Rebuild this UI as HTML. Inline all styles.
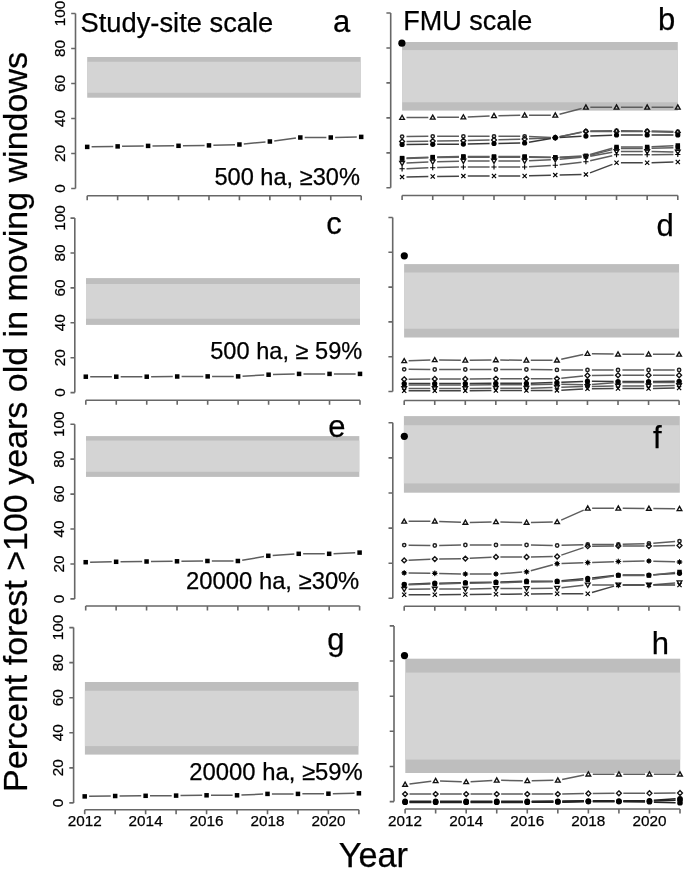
<!DOCTYPE html>
<html><head><meta charset="utf-8"><style>
html,body{margin:0;padding:0;background:#fff;}
body{width:685px;height:870px;overflow:hidden;}
svg{display:block;}
text{font-family:"Liberation Sans", Arial, sans-serif;fill:#000;stroke:#000;stroke-width:0.25px;}
.tk{font-size:15.3px;fill:#000;}
</style></head><body>
<svg width="685" height="870" viewBox="0 0 685 870">
<rect x="87.2" y="57" width="273.5" height="40.7" fill="#bebebe"/><rect x="87.2" y="61.8" width="273.5" height="31" fill="#d4d4d4"/>
<rect x="402.1" y="42" width="275.7" height="68.6" fill="#bebebe"/><rect x="402.1" y="50.1" width="275.7" height="52.2" fill="#d4d4d4"/>
<rect x="86" y="278.1" width="274" height="46.8" fill="#bebebe"/><rect x="86" y="284" width="274" height="34.7" fill="#d4d4d4"/>
<rect x="404.1" y="264.1" width="275" height="73.4" fill="#bebebe"/><rect x="404.1" y="272.5" width="275" height="56.2" fill="#d4d4d4"/>
<rect x="86" y="436.1" width="273.3" height="40.8" fill="#bebebe"/><rect x="86" y="440.6" width="273.3" height="31.2" fill="#d4d4d4"/>
<rect x="403.9" y="416.1" width="275.9" height="76.6" fill="#bebebe"/><rect x="403.9" y="425.2" width="275.9" height="58.2" fill="#d4d4d4"/>
<rect x="84.9" y="682" width="273.6" height="72.6" fill="#bebebe"/><rect x="84.9" y="690.8" width="273.6" height="55.3" fill="#d4d4d4"/>
<rect x="405.3" y="658.7" width="274.9" height="114.3" fill="#bebebe"/><rect x="405.3" y="672.6" width="274.9" height="87" fill="#d4d4d4"/>
<path d="M75.5 13.5V188.5M71.2 188.5H75.5M71.2 153.5H75.5M71.2 118.5H75.5M71.2 83.5H75.5M71.2 48.5H75.5M71.2 13.5H75.5M87.2 195.7H361.2M87.2 195.7V200.2M117.64 195.7V200.2M148.09 195.7V200.2M178.53 195.7V200.2M208.98 195.7V200.2M239.42 195.7V200.2M269.87 195.7V200.2M300.31 195.7V200.2M330.76 195.7V200.2M361.2 195.7V200.2" fill="none" stroke="#676767" stroke-width="1.6"/>
<text transform="translate(65.3 188.5) rotate(-90)" text-anchor="middle" class="tk">0</text>
<text transform="translate(65.3 153.5) rotate(-90)" text-anchor="middle" class="tk">20</text>
<text transform="translate(65.3 118.5) rotate(-90)" text-anchor="middle" class="tk">40</text>
<text transform="translate(65.3 83.5) rotate(-90)" text-anchor="middle" class="tk">60</text>
<text transform="translate(65.3 48.5) rotate(-90)" text-anchor="middle" class="tk">80</text>
<text transform="translate(65.3 13.5) rotate(-90)" text-anchor="middle" class="tk">100</text>
<path d="M390.7 13V187.8M386.4 187.8H390.7M386.4 152.84H390.7M386.4 117.88H390.7M386.4 82.92H390.7M386.4 47.96H390.7M386.4 13H390.7M402.1 195.5H677.8M402.1 195.5V200M432.73 195.5V200M463.37 195.5V200M494 195.5V200M524.63 195.5V200M555.27 195.5V200M585.9 195.5V200M616.53 195.5V200M647.17 195.5V200M677.8 195.5V200" fill="none" stroke="#676767" stroke-width="1.6"/>
<path d="M74.8 218.1V392.6M70.5 392.6H74.8M70.5 357.7H74.8M70.5 322.8H74.8M70.5 287.9H74.8M70.5 253H74.8M70.5 218.1H74.8M85.8 400.3H360M85.8 400.3V404.8M116.27 400.3V404.8M146.73 400.3V404.8M177.2 400.3V404.8M207.67 400.3V404.8M238.13 400.3V404.8M268.6 400.3V404.8M299.07 400.3V404.8M329.53 400.3V404.8M360 400.3V404.8" fill="none" stroke="#676767" stroke-width="1.6"/>
<text transform="translate(64.5 392.6) rotate(-90)" text-anchor="middle" class="tk">0</text>
<text transform="translate(64.5 357.7) rotate(-90)" text-anchor="middle" class="tk">20</text>
<text transform="translate(64.5 322.8) rotate(-90)" text-anchor="middle" class="tk">40</text>
<text transform="translate(64.5 287.9) rotate(-90)" text-anchor="middle" class="tk">60</text>
<text transform="translate(64.5 253) rotate(-90)" text-anchor="middle" class="tk">80</text>
<text transform="translate(64.5 218.1) rotate(-90)" text-anchor="middle" class="tk">100</text>
<path d="M392.7 217.5V391.5M388.4 391.5H392.7M388.4 356.7H392.7M388.4 321.9H392.7M388.4 287.1H392.7M388.4 252.3H392.7M388.4 217.5H392.7M404.2 400.5H679.1M404.2 400.5V405M434.74 400.5V405M465.29 400.5V405M495.83 400.5V405M526.38 400.5V405M556.92 400.5V405M587.47 400.5V405M618.01 400.5V405M648.56 400.5V405M679.1 400.5V405" fill="none" stroke="#676767" stroke-width="1.6"/>
<path d="M74.7 424.2V598.9M70.4 598.9H74.7M70.4 563.96H74.7M70.4 529.02H74.7M70.4 494.08H74.7M70.4 459.14H74.7M70.4 424.2H74.7M85.7 606H359.6M85.7 606V610.5M116.13 606V610.5M146.57 606V610.5M177 606V610.5M207.43 606V610.5M237.87 606V610.5M268.3 606V610.5M298.73 606V610.5M329.17 606V610.5M359.6 606V610.5" fill="none" stroke="#676767" stroke-width="1.6"/>
<text transform="translate(64.1 598.9) rotate(-90)" text-anchor="middle" class="tk">0</text>
<text transform="translate(64.1 563.96) rotate(-90)" text-anchor="middle" class="tk">20</text>
<text transform="translate(64.1 529.02) rotate(-90)" text-anchor="middle" class="tk">40</text>
<text transform="translate(64.1 494.08) rotate(-90)" text-anchor="middle" class="tk">60</text>
<text transform="translate(64.1 459.14) rotate(-90)" text-anchor="middle" class="tk">80</text>
<text transform="translate(64.1 424.2) rotate(-90)" text-anchor="middle" class="tk">100</text>
<path d="M392.8 422.8V598.3M388.5 598.3H392.8M388.5 563.2H392.8M388.5 528.1H392.8M388.5 493H392.8M388.5 457.9H392.8M388.5 422.8H392.8M404.2 606.2H679.5M404.2 606.2V610.7M434.79 606.2V610.7M465.38 606.2V610.7M495.97 606.2V610.7M526.56 606.2V610.7M557.14 606.2V610.7M587.73 606.2V610.7M618.32 606.2V610.7M648.91 606.2V610.7M679.5 606.2V610.7" fill="none" stroke="#676767" stroke-width="1.6"/>
<path d="M73.6 627.6V802.9M69.3 802.9H73.6M69.3 767.84H73.6M69.3 732.78H73.6M69.3 697.72H73.6M69.3 662.66H73.6M69.3 627.6H73.6M84.7 809.8H358.9M84.7 809.8V814.3M115.17 809.8V814.3M145.63 809.8V814.3M176.1 809.8V814.3M206.57 809.8V814.3M237.03 809.8V814.3M267.5 809.8V814.3M297.97 809.8V814.3M328.43 809.8V814.3M358.9 809.8V814.3" fill="none" stroke="#676767" stroke-width="1.6"/>
<text transform="translate(63.2 802.9) rotate(-90)" text-anchor="middle" class="tk">0</text>
<text transform="translate(63.2 767.84) rotate(-90)" text-anchor="middle" class="tk">20</text>
<text transform="translate(63.2 732.78) rotate(-90)" text-anchor="middle" class="tk">40</text>
<text transform="translate(63.2 697.72) rotate(-90)" text-anchor="middle" class="tk">60</text>
<text transform="translate(63.2 662.66) rotate(-90)" text-anchor="middle" class="tk">80</text>
<text transform="translate(63.2 627.6) rotate(-90)" text-anchor="middle" class="tk">100</text>
<path d="M394 625.9V801.6M389.7 801.6H394M389.7 766.46H394M389.7 731.32H394M389.7 696.18H394M389.7 661.04H394M389.7 625.9H394M405.1 809H680M405.1 809V813.5M435.64 809V813.5M466.19 809V813.5M496.73 809V813.5M527.28 809V813.5M557.82 809V813.5M588.37 809V813.5M618.91 809V813.5M649.46 809V813.5M680 809V813.5" fill="none" stroke="#676767" stroke-width="1.6"/>
<path d="M91.6 146.83L113.25 146.47M122.04 146.33L143.69 145.97M152.49 145.89L174.13 145.81M182.93 145.74L204.58 145.46M213.38 145.27L235.02 144.63M243.8 144.07L265.49 141.93M274.23 140.93L295.95 138.07M304.71 137.5L326.36 137.5M335.15 137.41L356.8 136.99" fill="none" stroke="#5e5e5e" stroke-width="1.5"/>
<rect x="84.95" y="144.65" width="4.5" height="4.5" fill="#000"/><rect x="115.39" y="144.15" width="4.5" height="4.5" fill="#000"/><rect x="145.84" y="143.65" width="4.5" height="4.5" fill="#000"/><rect x="176.28" y="143.55" width="4.5" height="4.5" fill="#000"/><rect x="206.73" y="143.15" width="4.5" height="4.5" fill="#000"/><rect x="237.17" y="142.25" width="4.5" height="4.5" fill="#000"/><rect x="267.62" y="139.25" width="4.5" height="4.5" fill="#000"/><rect x="298.06" y="135.25" width="4.5" height="4.5" fill="#000"/><rect x="328.51" y="135.25" width="4.5" height="4.5" fill="#000"/><rect x="358.95" y="134.65" width="4.5" height="4.5" fill="#000"/>
<path d="M406.5 117.57L428.33 117.43M437.13 117.36L458.97 117.14M467.76 116.91L489.6 115.99M498.4 115.73L520.23 115.37M529.03 115.3L550.87 115.3M559.52 114.19L581.64 108.41M590.3 107.3L612.13 107.3M620.93 107.3L642.77 107.3M651.57 107.3L673.4 107.3" fill="none" stroke="#5e5e5e" stroke-width="1.5"/>
<path d="M406.5 136.56L428.33 136.34M437.13 136.3L458.97 136.3M467.77 136.3L489.6 136.3M498.4 136.3L520.23 136.3M529.03 136.5L550.87 137.5M559.57 136.77L581.6 132.03M590.3 131.04L612.13 130.76M620.93 130.74L642.77 130.96M651.57 131.1L673.4 131.6" fill="none" stroke="#5e5e5e" stroke-width="1.5"/>
<path d="M406.5 141.44L428.33 141.16M437.13 141.04L458.97 140.76M467.77 140.6L489.6 140.1M498.4 139.86L520.24 139.14M529.03 138.81L550.87 137.89M559.58 136.83L581.59 132.37M590.3 131.5L612.13 131.5M620.93 131.5L642.77 131.5M651.56 131.64L673.4 132.36" fill="none" stroke="#5e5e5e" stroke-width="1.5"/>
<path d="M406.5 144.47L428.33 144.33M437.13 144.27L458.97 144.13M467.77 144.01L489.6 143.59M498.4 143.43L520.23 143.07M528.97 142.25L550.93 138.45M559.66 137.47L581.51 136.33M590.3 135.94L612.14 135.16M620.93 135L642.77 135M651.57 135L673.4 135" fill="none" stroke="#383838" stroke-width="1.5"/>
<path d="M406.5 157.96L428.34 157.24M437.13 157L458.97 156.5M467.77 156.41L489.6 156.49M498.4 156.5L520.23 156.5M529.03 156.63L550.87 157.27M559.66 157.17L581.51 156.03M590.13 154.59L612.3 148.21M620.93 147L642.77 147M651.56 146.78L673.41 145.72" fill="none" stroke="#5e5e5e" stroke-width="1.5"/>
<path d="M406.5 158.46L428.34 157.74M437.13 157.54L458.97 157.26M467.77 157.2L489.6 157.2M498.4 157.2L520.23 157.2M529.03 157.26L550.87 157.54M559.66 157.44L581.5 156.66M590.16 155.39L612.28 149.61M620.93 148.5L642.77 148.5M651.56 148.36L673.4 147.64" fill="none" stroke="#5e5e5e" stroke-width="1.5"/>
<path d="M406.5 163.1L428.34 162.1M437.13 161.77L458.97 161.13M467.77 161L489.6 161M498.4 161L520.23 161M529.03 160.78L550.87 159.72M559.65 159.14L581.51 157.36M590.23 156.22L612.2 152.28M620.93 151.5L642.77 151.5M651.57 151.57L673.4 151.93" fill="none" stroke="#5e5e5e" stroke-width="1.5"/>
<path d="M406.5 168.64L428.34 167.86M437.13 167.6L458.97 167.1M467.77 167L489.6 167M498.4 167L520.23 167M529.03 166.76L550.87 165.54M559.64 164.79L581.53 162.21M590.19 160.72L612.24 155.68M620.93 154.7L642.77 154.7M651.57 154.67L673.4 154.53" fill="none" stroke="#5e5e5e" stroke-width="1.5"/>
<path d="M406.5 177.01L428.33 176.59M437.13 176.44L458.97 176.16M467.77 176.09L489.6 176.01M498.4 176L520.23 176M529.03 175.87L550.87 175.23M559.67 175L581.5 174.5M590.01 172.84L612.42 164.36M620.93 162.8L642.77 162.8M651.57 162.69L673.4 162.11" fill="none" stroke="#444" stroke-width="1.5"/>
<path d="M402.1 115.25L404.45 119.36L399.75 119.36Z" fill="none" stroke="#111" stroke-width="1.35"/><path d="M432.73 115.05L435.08 119.16L430.38 119.16Z" fill="none" stroke="#111" stroke-width="1.35"/><path d="M463.37 114.75L465.72 118.86L461.02 118.86Z" fill="none" stroke="#111" stroke-width="1.35"/><path d="M494 113.45L496.35 117.56L491.65 117.56Z" fill="none" stroke="#111" stroke-width="1.35"/><path d="M524.63 112.95L526.98 117.06L522.28 117.06Z" fill="none" stroke="#111" stroke-width="1.35"/><path d="M555.27 112.95L557.62 117.06L552.92 117.06Z" fill="none" stroke="#111" stroke-width="1.35"/><path d="M585.9 104.95L588.25 109.06L583.55 109.06Z" fill="none" stroke="#111" stroke-width="1.35"/><path d="M616.53 104.95L618.88 109.06L614.18 109.06Z" fill="none" stroke="#111" stroke-width="1.35"/><path d="M647.17 104.95L649.52 109.06L644.82 109.06Z" fill="none" stroke="#111" stroke-width="1.35"/><path d="M677.8 104.95L680.15 109.06L675.45 109.06Z" fill="none" stroke="#111" stroke-width="1.35"/>
<circle cx="402.1" cy="136.6" r="1.65" fill="none" stroke="#222" stroke-width="1.5"/><circle cx="432.73" cy="136.3" r="1.65" fill="none" stroke="#222" stroke-width="1.5"/><circle cx="463.37" cy="136.3" r="1.65" fill="none" stroke="#222" stroke-width="1.5"/><circle cx="494" cy="136.3" r="1.65" fill="none" stroke="#222" stroke-width="1.5"/><circle cx="524.63" cy="136.3" r="1.65" fill="none" stroke="#222" stroke-width="1.5"/><circle cx="555.27" cy="137.7" r="1.65" fill="none" stroke="#222" stroke-width="1.5"/><circle cx="585.9" cy="131.1" r="1.65" fill="none" stroke="#222" stroke-width="1.5"/><circle cx="616.53" cy="130.7" r="1.65" fill="none" stroke="#222" stroke-width="1.5"/><circle cx="647.17" cy="131" r="1.65" fill="none" stroke="#222" stroke-width="1.5"/><circle cx="677.8" cy="131.7" r="1.65" fill="none" stroke="#222" stroke-width="1.5"/>
<path d="M402.1 139.05L404.55 141.5L402.1 143.95L399.65 141.5Z" fill="none" stroke="#111" stroke-width="1.35"/><path d="M432.73 138.65L435.18 141.1L432.73 143.55L430.28 141.1Z" fill="none" stroke="#111" stroke-width="1.35"/><path d="M463.37 138.25L465.82 140.7L463.37 143.15L460.92 140.7Z" fill="none" stroke="#111" stroke-width="1.35"/><path d="M494 137.55L496.45 140L494 142.45L491.55 140Z" fill="none" stroke="#111" stroke-width="1.35"/><path d="M524.63 136.55L527.08 139L524.63 141.45L522.18 139Z" fill="none" stroke="#111" stroke-width="1.35"/><path d="M555.27 135.25L557.72 137.7L555.27 140.15L552.82 137.7Z" fill="none" stroke="#111" stroke-width="1.35"/><path d="M585.9 129.05L588.35 131.5L585.9 133.95L583.45 131.5Z" fill="none" stroke="#111" stroke-width="1.35"/><path d="M616.53 129.05L618.98 131.5L616.53 133.95L614.08 131.5Z" fill="none" stroke="#111" stroke-width="1.35"/><path d="M647.17 129.05L649.62 131.5L647.17 133.95L644.72 131.5Z" fill="none" stroke="#111" stroke-width="1.35"/><path d="M677.8 130.05L680.25 132.5L677.8 134.95L675.35 132.5Z" fill="none" stroke="#111" stroke-width="1.35"/>
<circle cx="402.1" cy="144.5" r="2.6" fill="#000"/><circle cx="432.73" cy="144.3" r="2.6" fill="#000"/><circle cx="463.37" cy="144.1" r="2.6" fill="#000"/><circle cx="494" cy="143.5" r="2.6" fill="#000"/><circle cx="524.63" cy="143" r="2.6" fill="#000"/><circle cx="555.27" cy="137.7" r="2.6" fill="#000"/><circle cx="585.9" cy="136.1" r="2.6" fill="#000"/><circle cx="616.53" cy="135" r="2.6" fill="#000"/><circle cx="647.17" cy="135" r="2.6" fill="#000"/><circle cx="677.8" cy="135" r="2.6" fill="#000"/>
<rect x="399.85" y="155.85" width="4.5" height="4.5" fill="#000"/><rect x="430.48" y="154.85" width="4.5" height="4.5" fill="#000"/><rect x="461.12" y="154.15" width="4.5" height="4.5" fill="#000"/><rect x="491.75" y="154.25" width="4.5" height="4.5" fill="#000"/><rect x="522.38" y="154.25" width="4.5" height="4.5" fill="#000"/><rect x="553.02" y="155.15" width="4.5" height="4.5" fill="#000"/><rect x="583.65" y="153.55" width="4.5" height="4.5" fill="#000"/><rect x="614.28" y="144.75" width="4.5" height="4.5" fill="#000"/><rect x="644.92" y="144.75" width="4.5" height="4.5" fill="#000"/><rect x="675.55" y="143.25" width="4.5" height="4.5" fill="#000"/>
<rect x="399.85" y="156.35" width="4.5" height="4.5" fill="#000"/><rect x="430.48" y="155.35" width="4.5" height="4.5" fill="#000"/><rect x="461.12" y="154.95" width="4.5" height="4.5" fill="#000"/><rect x="491.75" y="154.95" width="4.5" height="4.5" fill="#000"/><rect x="522.38" y="154.95" width="4.5" height="4.5" fill="#000"/><rect x="553.02" y="155.35" width="4.5" height="4.5" fill="#000"/><rect x="583.65" y="154.25" width="4.5" height="4.5" fill="#000"/><rect x="614.28" y="146.25" width="4.5" height="4.5" fill="#000"/><rect x="644.92" y="146.25" width="4.5" height="4.5" fill="#000"/><rect x="675.55" y="145.25" width="4.5" height="4.5" fill="#000"/>
<path d="M402.1 165.65L404.45 161.54L399.75 161.54Z" fill="none" stroke="#111" stroke-width="1.35"/><path d="M432.73 164.25L435.08 160.14L430.38 160.14Z" fill="none" stroke="#111" stroke-width="1.35"/><path d="M463.37 163.35L465.72 159.24L461.02 159.24Z" fill="none" stroke="#111" stroke-width="1.35"/><path d="M494 163.35L496.35 159.24L491.65 159.24Z" fill="none" stroke="#111" stroke-width="1.35"/><path d="M524.63 163.35L526.98 159.24L522.28 159.24Z" fill="none" stroke="#111" stroke-width="1.35"/><path d="M555.27 161.85L557.62 157.74L552.92 157.74Z" fill="none" stroke="#111" stroke-width="1.35"/><path d="M585.9 159.35L588.25 155.24L583.55 155.24Z" fill="none" stroke="#111" stroke-width="1.35"/><path d="M616.53 153.85L618.88 149.74L614.18 149.74Z" fill="none" stroke="#111" stroke-width="1.35"/><path d="M647.17 153.85L649.52 149.74L644.82 149.74Z" fill="none" stroke="#111" stroke-width="1.35"/><path d="M677.8 154.35L680.15 150.24L675.45 150.24Z" fill="none" stroke="#111" stroke-width="1.35"/>
<path d="M399.5 168.8H404.7M402.1 166.2V171.4" stroke="#000" stroke-width="1.1"/><path d="M430.13 167.7H435.33M432.73 165.1V170.3" stroke="#000" stroke-width="1.1"/><path d="M460.77 167H465.97M463.37 164.4V169.6" stroke="#000" stroke-width="1.1"/><path d="M491.4 167H496.6M494 164.4V169.6" stroke="#000" stroke-width="1.1"/><path d="M522.03 167H527.23M524.63 164.4V169.6" stroke="#000" stroke-width="1.1"/><path d="M552.67 165.3H557.87M555.27 162.7V167.9" stroke="#000" stroke-width="1.1"/><path d="M583.3 161.7H588.5M585.9 159.1V164.3" stroke="#000" stroke-width="1.1"/><path d="M613.93 154.7H619.13M616.53 152.1V157.3" stroke="#000" stroke-width="1.1"/><path d="M644.57 154.7H649.77M647.17 152.1V157.3" stroke="#000" stroke-width="1.1"/><path d="M675.2 154.5H680.4M677.8 151.9V157.1" stroke="#000" stroke-width="1.1"/>
<path d="M400 175L404.2 179.2M400 179.2L404.2 175" stroke="#000" stroke-width="1.2"/><path d="M430.63 174.4L434.83 178.6M430.63 178.6L434.83 174.4" stroke="#000" stroke-width="1.2"/><path d="M461.27 174L465.47 178.2M461.27 178.2L465.47 174" stroke="#000" stroke-width="1.2"/><path d="M491.9 173.9L496.1 178.1M491.9 178.1L496.1 173.9" stroke="#000" stroke-width="1.2"/><path d="M522.53 173.9L526.73 178.1M522.53 178.1L526.73 173.9" stroke="#000" stroke-width="1.2"/><path d="M553.17 173L557.37 177.2M553.17 177.2L557.37 173" stroke="#000" stroke-width="1.2"/><path d="M583.8 172.3L588 176.5M583.8 176.5L588 172.3" stroke="#000" stroke-width="1.2"/><path d="M614.43 160.7L618.63 164.9M614.43 164.9L618.63 160.7" stroke="#000" stroke-width="1.2"/><path d="M645.07 160.7L649.27 164.9M645.07 164.9L649.27 160.7" stroke="#000" stroke-width="1.2"/><path d="M675.7 159.9L679.9 164.1M675.7 164.1L679.9 159.9" stroke="#000" stroke-width="1.2"/>
<circle cx="401.9" cy="43.2" r="3.6" fill="#000"/>
<path d="M90.2 376.7L111.87 376.7M120.67 376.7L142.33 376.7M151.13 376.67L172.8 376.53M181.6 376.49L203.27 376.41M212.07 376.4L233.73 376.4M242.53 376.15L264.21 374.95M273 374.58L294.67 374.02M303.47 373.9L325.13 373.9M333.93 373.9L355.6 373.9" fill="none" stroke="#5e5e5e" stroke-width="1.5"/>
<rect x="83.55" y="374.45" width="4.5" height="4.5" fill="#000"/><rect x="114.02" y="374.45" width="4.5" height="4.5" fill="#000"/><rect x="144.48" y="374.45" width="4.5" height="4.5" fill="#000"/><rect x="174.95" y="374.25" width="4.5" height="4.5" fill="#000"/><rect x="205.42" y="374.15" width="4.5" height="4.5" fill="#000"/><rect x="235.88" y="374.15" width="4.5" height="4.5" fill="#000"/><rect x="266.35" y="372.45" width="4.5" height="4.5" fill="#000"/><rect x="296.82" y="371.65" width="4.5" height="4.5" fill="#000"/><rect x="327.28" y="371.65" width="4.5" height="4.5" fill="#000"/><rect x="357.75" y="371.65" width="4.5" height="4.5" fill="#000"/>
<path d="M408.6 360.76L430.35 360.04M439.14 359.96L460.89 360.24M469.69 360.26L491.43 360.04M500.23 360.04L521.98 360.26M530.78 360.29L552.52 360.21M561.22 359.27L583.17 354.53M591.87 353.69L613.61 354.11M622.41 354.2L644.16 354.2M652.96 354.23L674.7 354.37" fill="none" stroke="#5e5e5e" stroke-width="1.5"/>
<path d="M408.6 369.33L430.34 369.47M439.14 369.5L460.89 369.5M469.69 369.5L491.43 369.5M500.23 369.5L521.98 369.5M530.78 369.56L552.52 369.84M561.32 369.9L583.07 369.9M591.87 369.91L613.61 369.99M622.41 370L644.16 370M652.96 370L674.7 370" fill="none" stroke="#5e5e5e" stroke-width="1.5"/>
<path d="M408.6 379.26L430.34 379.04M439.14 379L460.89 379M469.69 378.97L491.43 378.83M500.23 378.8L521.98 378.8M530.78 378.77L552.52 378.63M561.3 378.16L583.09 375.94M591.87 375.47L613.61 375.33M622.41 375.3L644.16 375.3M652.96 375.3L674.7 375.3" fill="none" stroke="#5e5e5e" stroke-width="1.5"/>
<path d="M408.6 383.5L430.34 383.5M439.14 383.5L460.89 383.5M469.69 383.47L491.43 383.33M500.23 383.3L521.98 383.3M530.78 383.18L552.52 382.62M561.32 382.31L583.07 381.39M591.87 381.24L613.61 381.46M622.41 381.5L644.16 381.5M652.96 381.47L674.7 381.33" fill="none" stroke="#383838" stroke-width="1.5"/>
<path d="M408.6 385L430.34 385M439.14 385L460.89 385M469.69 384.97L491.43 384.83M500.23 384.8L521.98 384.8M530.78 384.71L552.52 384.29M561.32 384.27L583.07 384.63M591.86 384.38L613.62 382.82M622.41 382.5L644.16 382.5M652.96 382.5L674.7 382.5" fill="none" stroke="#5e5e5e" stroke-width="1.5"/>
<path d="M408.6 388.5L430.34 388.5M439.14 388.5L460.89 388.5M469.69 388.47L491.43 388.33M500.23 388.3L521.98 388.3M530.78 388.16L552.52 387.44M561.32 387.18L583.07 386.62M591.87 386.43L613.61 386.07M622.41 386L644.16 386M652.95 385.93L674.7 385.57" fill="none" stroke="#5e5e5e" stroke-width="1.5"/>
<path d="M408.6 390.7L430.34 390.7M439.14 390.7L460.89 390.7M469.69 390.67L491.43 390.53M500.23 390.5L521.98 390.5M530.78 390.49L552.52 390.41M561.32 390.17L583.07 389.03M591.87 388.76L613.61 388.54M622.41 388.5L644.16 388.5M652.95 388.43L674.7 388.07" fill="none" stroke="#444" stroke-width="1.5"/>
<path d="M404.2 358.55L406.55 362.66L401.85 362.66Z" fill="none" stroke="#111" stroke-width="1.35"/><path d="M434.74 357.55L437.09 361.66L432.39 361.66Z" fill="none" stroke="#111" stroke-width="1.35"/><path d="M465.29 357.95L467.64 362.06L462.94 362.06Z" fill="none" stroke="#111" stroke-width="1.35"/><path d="M495.83 357.65L498.18 361.76L493.48 361.76Z" fill="none" stroke="#111" stroke-width="1.35"/><path d="M526.38 357.95L528.73 362.06L524.03 362.06Z" fill="none" stroke="#111" stroke-width="1.35"/><path d="M556.92 357.85L559.27 361.96L554.57 361.96Z" fill="none" stroke="#111" stroke-width="1.35"/><path d="M587.47 351.25L589.82 355.36L585.12 355.36Z" fill="none" stroke="#111" stroke-width="1.35"/><path d="M618.01 351.85L620.36 355.96L615.66 355.96Z" fill="none" stroke="#111" stroke-width="1.35"/><path d="M648.56 351.85L650.91 355.96L646.21 355.96Z" fill="none" stroke="#111" stroke-width="1.35"/><path d="M679.1 352.05L681.45 356.16L676.75 356.16Z" fill="none" stroke="#111" stroke-width="1.35"/>
<circle cx="404.2" cy="369.3" r="1.65" fill="none" stroke="#222" stroke-width="1.5"/><circle cx="434.74" cy="369.5" r="1.65" fill="none" stroke="#222" stroke-width="1.5"/><circle cx="465.29" cy="369.5" r="1.65" fill="none" stroke="#222" stroke-width="1.5"/><circle cx="495.83" cy="369.5" r="1.65" fill="none" stroke="#222" stroke-width="1.5"/><circle cx="526.38" cy="369.5" r="1.65" fill="none" stroke="#222" stroke-width="1.5"/><circle cx="556.92" cy="369.9" r="1.65" fill="none" stroke="#222" stroke-width="1.5"/><circle cx="587.47" cy="369.9" r="1.65" fill="none" stroke="#222" stroke-width="1.5"/><circle cx="618.01" cy="370" r="1.65" fill="none" stroke="#222" stroke-width="1.5"/><circle cx="648.56" cy="370" r="1.65" fill="none" stroke="#222" stroke-width="1.5"/><circle cx="679.1" cy="370" r="1.65" fill="none" stroke="#222" stroke-width="1.5"/>
<path d="M404.2 376.85L406.65 379.3L404.2 381.75L401.75 379.3Z" fill="none" stroke="#111" stroke-width="1.35"/><path d="M434.74 376.55L437.19 379L434.74 381.45L432.29 379Z" fill="none" stroke="#111" stroke-width="1.35"/><path d="M465.29 376.55L467.74 379L465.29 381.45L462.84 379Z" fill="none" stroke="#111" stroke-width="1.35"/><path d="M495.83 376.35L498.28 378.8L495.83 381.25L493.38 378.8Z" fill="none" stroke="#111" stroke-width="1.35"/><path d="M526.38 376.35L528.83 378.8L526.38 381.25L523.93 378.8Z" fill="none" stroke="#111" stroke-width="1.35"/><path d="M556.92 376.15L559.37 378.6L556.92 381.05L554.47 378.6Z" fill="none" stroke="#111" stroke-width="1.35"/><path d="M587.47 373.05L589.92 375.5L587.47 377.95L585.02 375.5Z" fill="none" stroke="#111" stroke-width="1.35"/><path d="M618.01 372.85L620.46 375.3L618.01 377.75L615.56 375.3Z" fill="none" stroke="#111" stroke-width="1.35"/><path d="M648.56 372.85L651.01 375.3L648.56 377.75L646.11 375.3Z" fill="none" stroke="#111" stroke-width="1.35"/><path d="M679.1 372.85L681.55 375.3L679.1 377.75L676.65 375.3Z" fill="none" stroke="#111" stroke-width="1.35"/>
<circle cx="404.2" cy="383.5" r="2.6" fill="#000"/><circle cx="434.74" cy="383.5" r="2.6" fill="#000"/><circle cx="465.29" cy="383.5" r="2.6" fill="#000"/><circle cx="495.83" cy="383.3" r="2.6" fill="#000"/><circle cx="526.38" cy="383.3" r="2.6" fill="#000"/><circle cx="556.92" cy="382.5" r="2.6" fill="#000"/><circle cx="587.47" cy="381.2" r="2.6" fill="#000"/><circle cx="618.01" cy="381.5" r="2.6" fill="#000"/><circle cx="648.56" cy="381.5" r="2.6" fill="#000"/><circle cx="679.1" cy="381.3" r="2.6" fill="#000"/>
<rect x="401.95" y="382.75" width="4.5" height="4.5" fill="#000"/><rect x="432.49" y="382.75" width="4.5" height="4.5" fill="#000"/><rect x="463.04" y="382.75" width="4.5" height="4.5" fill="#000"/><rect x="493.58" y="382.55" width="4.5" height="4.5" fill="#000"/><rect x="524.13" y="382.55" width="4.5" height="4.5" fill="#000"/><rect x="554.67" y="381.95" width="4.5" height="4.5" fill="#000"/><rect x="585.22" y="382.45" width="4.5" height="4.5" fill="#000"/><rect x="615.76" y="380.25" width="4.5" height="4.5" fill="#000"/><rect x="646.31" y="380.25" width="4.5" height="4.5" fill="#000"/><rect x="676.85" y="380.25" width="4.5" height="4.5" fill="#000"/>
<path d="M404.2 390.85L406.55 386.74L401.85 386.74Z" fill="none" stroke="#111" stroke-width="1.35"/><path d="M434.74 390.85L437.09 386.74L432.39 386.74Z" fill="none" stroke="#111" stroke-width="1.35"/><path d="M465.29 390.85L467.64 386.74L462.94 386.74Z" fill="none" stroke="#111" stroke-width="1.35"/><path d="M495.83 390.65L498.18 386.54L493.48 386.54Z" fill="none" stroke="#111" stroke-width="1.35"/><path d="M526.38 390.65L528.73 386.54L524.03 386.54Z" fill="none" stroke="#111" stroke-width="1.35"/><path d="M556.92 389.65L559.27 385.54L554.57 385.54Z" fill="none" stroke="#111" stroke-width="1.35"/><path d="M587.47 388.85L589.82 384.74L585.12 384.74Z" fill="none" stroke="#111" stroke-width="1.35"/><path d="M618.01 388.35L620.36 384.24L615.66 384.24Z" fill="none" stroke="#111" stroke-width="1.35"/><path d="M648.56 388.35L650.91 384.24L646.21 384.24Z" fill="none" stroke="#111" stroke-width="1.35"/><path d="M679.1 387.85L681.45 383.74L676.75 383.74Z" fill="none" stroke="#111" stroke-width="1.35"/>
<path d="M402.1 388.6L406.3 392.8M402.1 392.8L406.3 388.6" stroke="#000" stroke-width="1.2"/><path d="M432.64 388.6L436.84 392.8M432.64 392.8L436.84 388.6" stroke="#000" stroke-width="1.2"/><path d="M463.19 388.6L467.39 392.8M463.19 392.8L467.39 388.6" stroke="#000" stroke-width="1.2"/><path d="M493.73 388.4L497.93 392.6M493.73 392.6L497.93 388.4" stroke="#000" stroke-width="1.2"/><path d="M524.28 388.4L528.48 392.6M524.28 392.6L528.48 388.4" stroke="#000" stroke-width="1.2"/><path d="M554.82 388.3L559.02 392.5M554.82 392.5L559.02 388.3" stroke="#000" stroke-width="1.2"/><path d="M585.37 386.7L589.57 390.9M585.37 390.9L589.57 386.7" stroke="#000" stroke-width="1.2"/><path d="M615.91 386.4L620.11 390.6M615.91 390.6L620.11 386.4" stroke="#000" stroke-width="1.2"/><path d="M646.46 386.4L650.66 390.6M646.46 390.6L650.66 386.4" stroke="#000" stroke-width="1.2"/><path d="M677 385.9L681.2 390.1M677 390.1L681.2 385.9" stroke="#000" stroke-width="1.2"/>
<circle cx="404.3" cy="255.8" r="3.6" fill="#000"/>
<path d="M90.1 562.14L111.73 561.86M120.53 561.76L142.17 561.54M150.97 561.47L172.6 561.33M181.4 561.26L203.03 561.04M211.83 561L233.47 561M242.2 560.26L263.96 556.54M272.69 555.51L294.34 554.09M303.13 553.8L324.77 553.8M333.56 553.63L355.2 552.77" fill="none" stroke="#5e5e5e" stroke-width="1.5"/>
<rect x="83.45" y="559.95" width="4.5" height="4.5" fill="#000"/><rect x="113.88" y="559.55" width="4.5" height="4.5" fill="#000"/><rect x="144.32" y="559.25" width="4.5" height="4.5" fill="#000"/><rect x="174.75" y="559.05" width="4.5" height="4.5" fill="#000"/><rect x="205.18" y="558.75" width="4.5" height="4.5" fill="#000"/><rect x="235.62" y="558.75" width="4.5" height="4.5" fill="#000"/><rect x="266.05" y="553.55" width="4.5" height="4.5" fill="#000"/><rect x="296.48" y="551.55" width="4.5" height="4.5" fill="#000"/><rect x="326.92" y="551.55" width="4.5" height="4.5" fill="#000"/><rect x="357.35" y="550.35" width="4.5" height="4.5" fill="#000"/>
<path d="M408.6 521.37L430.39 521.23M439.18 521.39L460.98 522.31M469.78 522.41L491.57 521.99M500.37 521.99L522.16 522.41M530.95 522.41L552.75 521.99M561.16 520.11L583.71 510.09M592.13 508.3L613.92 508.3M622.72 508.33L644.51 508.47M653.31 508.54L675.1 508.76" fill="none" stroke="#5e5e5e" stroke-width="1.5"/>
<path d="M408.6 545.16L430.39 545.44M439.19 545.43L460.98 545.07M469.78 545L491.57 545M500.37 545L522.16 545M530.95 545.07L552.75 545.43M561.54 545.36L583.34 544.64M592.13 544.5L613.92 544.5M622.72 544.36L644.51 543.64M653.3 543.16L675.11 541.44" fill="none" stroke="#5e5e5e" stroke-width="1.5"/>
<path d="M408.6 560.21L430.39 559.29M439.19 559.03L460.98 558.67M469.77 558.36L491.57 557.14M500.37 556.91L522.16 556.99M530.95 556.93L552.75 556.57M561.31 555.1L583.56 547.6M592.13 546.17L613.92 546.03M622.72 546L644.51 546M653.31 545.93L675.1 545.57" fill="none" stroke="#5e5e5e" stroke-width="1.5"/>
<path d="M408.6 572.96L430.39 573.24M439.19 573.4L460.98 573.9M469.78 574L491.57 574M500.36 573.68L522.17 572.12M530.81 570.67L552.89 564.83M561.54 563.54L583.34 562.76M592.13 562.44L613.93 561.66M622.72 561.43L644.51 561.07M653.31 561.14L675.1 561.86" fill="none" stroke="#5e5e5e" stroke-width="1.5"/>
<path d="M408.6 584.14L430.39 583.36M439.19 583.13L460.98 582.77M469.78 582.61L491.57 582.19M500.36 581.97L522.16 581.33M530.96 581.2L552.74 581.2M561.53 580.8L583.35 578.8M592.11 577.91L613.95 575.49M622.72 575L644.51 575M653.3 574.76L675.11 573.54" fill="none" stroke="#383838" stroke-width="1.5"/>
<path d="M408.6 584.68L430.39 584.12M439.19 583.88L460.98 583.32M469.78 583.14L491.57 582.86M500.37 582.68L522.16 582.12M530.96 581.97L552.74 581.83M561.54 581.51L583.34 580.09M592.09 579.19L613.97 576.11M622.72 575.5L644.51 575.5M653.28 575L675.13 572.5" fill="none" stroke="#5e5e5e" stroke-width="1.5"/>
<path d="M408.6 589.26L430.39 589.04M439.19 589L460.98 589M469.78 588.93L491.57 588.57M500.37 588.5L522.16 588.5M530.96 588.46L552.74 588.24M561.52 587.73L583.36 585.37M592.13 584.9L613.92 584.9M622.72 584.91L644.51 584.99M653.3 584.67L675.11 583.03" fill="none" stroke="#5e5e5e" stroke-width="1.5"/>
<path d="M408.6 594.8L430.39 594.8M439.19 594.76L460.98 594.54M469.78 594.47L491.57 594.33M500.37 594.26L522.16 594.04M530.96 593.96L552.74 593.74M561.54 593.7L583.33 593.7M591.96 592.48L614.09 586.12M622.72 584.91L644.51 584.99M653.31 585L675.1 585" fill="none" stroke="#444" stroke-width="1.5"/>
<path d="M404.2 519.05L406.55 523.16L401.85 523.16Z" fill="none" stroke="#111" stroke-width="1.35"/><path d="M434.79 518.85L437.14 522.96L432.44 522.96Z" fill="none" stroke="#111" stroke-width="1.35"/><path d="M465.38 520.15L467.73 524.26L463.03 524.26Z" fill="none" stroke="#111" stroke-width="1.35"/><path d="M495.97 519.55L498.32 523.66L493.62 523.66Z" fill="none" stroke="#111" stroke-width="1.35"/><path d="M526.56 520.15L528.91 524.26L524.21 524.26Z" fill="none" stroke="#111" stroke-width="1.35"/><path d="M557.14 519.55L559.49 523.66L554.79 523.66Z" fill="none" stroke="#111" stroke-width="1.35"/><path d="M587.73 505.95L590.08 510.06L585.38 510.06Z" fill="none" stroke="#111" stroke-width="1.35"/><path d="M618.32 505.95L620.67 510.06L615.97 510.06Z" fill="none" stroke="#111" stroke-width="1.35"/><path d="M648.91 506.15L651.26 510.26L646.56 510.26Z" fill="none" stroke="#111" stroke-width="1.35"/><path d="M679.5 506.45L681.85 510.56L677.15 510.56Z" fill="none" stroke="#111" stroke-width="1.35"/>
<circle cx="404.2" cy="545.1" r="1.65" fill="none" stroke="#222" stroke-width="1.5"/><circle cx="434.79" cy="545.5" r="1.65" fill="none" stroke="#222" stroke-width="1.5"/><circle cx="465.38" cy="545" r="1.65" fill="none" stroke="#222" stroke-width="1.5"/><circle cx="495.97" cy="545" r="1.65" fill="none" stroke="#222" stroke-width="1.5"/><circle cx="526.56" cy="545" r="1.65" fill="none" stroke="#222" stroke-width="1.5"/><circle cx="557.14" cy="545.5" r="1.65" fill="none" stroke="#222" stroke-width="1.5"/><circle cx="587.73" cy="544.5" r="1.65" fill="none" stroke="#222" stroke-width="1.5"/><circle cx="618.32" cy="544.5" r="1.65" fill="none" stroke="#222" stroke-width="1.5"/><circle cx="648.91" cy="543.5" r="1.65" fill="none" stroke="#222" stroke-width="1.5"/><circle cx="679.5" cy="541.1" r="1.65" fill="none" stroke="#222" stroke-width="1.5"/>
<path d="M404.2 557.95L406.65 560.4L404.2 562.85L401.75 560.4Z" fill="none" stroke="#111" stroke-width="1.35"/><path d="M434.79 556.65L437.24 559.1L434.79 561.55L432.34 559.1Z" fill="none" stroke="#111" stroke-width="1.35"/><path d="M465.38 556.15L467.83 558.6L465.38 561.05L462.93 558.6Z" fill="none" stroke="#111" stroke-width="1.35"/><path d="M495.97 554.45L498.42 556.9L495.97 559.35L493.52 556.9Z" fill="none" stroke="#111" stroke-width="1.35"/><path d="M526.56 554.55L529.01 557L526.56 559.45L524.11 557Z" fill="none" stroke="#111" stroke-width="1.35"/><path d="M557.14 554.05L559.59 556.5L557.14 558.95L554.69 556.5Z" fill="none" stroke="#111" stroke-width="1.35"/><path d="M587.73 543.75L590.18 546.2L587.73 548.65L585.28 546.2Z" fill="none" stroke="#111" stroke-width="1.35"/><path d="M618.32 543.55L620.77 546L618.32 548.45L615.87 546Z" fill="none" stroke="#111" stroke-width="1.35"/><path d="M648.91 543.55L651.36 546L648.91 548.45L646.46 546Z" fill="none" stroke="#111" stroke-width="1.35"/><path d="M679.5 543.05L681.95 545.5L679.5 547.95L677.05 545.5Z" fill="none" stroke="#111" stroke-width="1.35"/>
<circle cx="404.2" cy="572.9" r="2.1" fill="#000"/><path d="M401.3 572.9H407.1M404.2 570V575.8M402.2 570.9L406.2 574.9M402.2 574.9L406.2 570.9" stroke="#000" stroke-width="0.9"/><circle cx="434.79" cy="573.3" r="2.1" fill="#000"/><path d="M431.89 573.3H437.69M434.79 570.4V576.2M432.79 571.3L436.79 575.3M432.79 575.3L436.79 571.3" stroke="#000" stroke-width="0.9"/><circle cx="465.38" cy="574" r="2.1" fill="#000"/><path d="M462.48 574H468.28M465.38 571.1V576.9M463.38 572L467.38 576M463.38 576L467.38 572" stroke="#000" stroke-width="0.9"/><circle cx="495.97" cy="574" r="2.1" fill="#000"/><path d="M493.07 574H498.87M495.97 571.1V576.9M493.97 572L497.97 576M493.97 576L497.97 572" stroke="#000" stroke-width="0.9"/><circle cx="526.56" cy="571.8" r="2.1" fill="#000"/><path d="M523.66 571.8H529.46M526.56 568.9V574.7M524.56 569.8L528.56 573.8M524.56 573.8L528.56 569.8" stroke="#000" stroke-width="0.9"/><circle cx="557.14" cy="563.7" r="2.1" fill="#000"/><path d="M554.24 563.7H560.04M557.14 560.8V566.6M555.14 561.7L559.14 565.7M555.14 565.7L559.14 561.7" stroke="#000" stroke-width="0.9"/><circle cx="587.73" cy="562.6" r="2.1" fill="#000"/><path d="M584.83 562.6H590.63M587.73 559.7V565.5M585.73 560.6L589.73 564.6M585.73 564.6L589.73 560.6" stroke="#000" stroke-width="0.9"/><circle cx="618.32" cy="561.5" r="2.1" fill="#000"/><path d="M615.42 561.5H621.22M618.32 558.6V564.4M616.32 559.5L620.32 563.5M616.32 563.5L620.32 559.5" stroke="#000" stroke-width="0.9"/><circle cx="648.91" cy="561" r="2.1" fill="#000"/><path d="M646.01 561H651.81M648.91 558.1V563.9M646.91 559L650.91 563M646.91 563L650.91 559" stroke="#000" stroke-width="0.9"/><circle cx="679.5" cy="562" r="2.1" fill="#000"/><path d="M676.6 562H682.4M679.5 559.1V564.9M677.5 560L681.5 564M677.5 564L681.5 560" stroke="#000" stroke-width="0.9"/>
<circle cx="404.2" cy="584.3" r="2.6" fill="#000"/><circle cx="434.79" cy="583.2" r="2.6" fill="#000"/><circle cx="465.38" cy="582.7" r="2.6" fill="#000"/><circle cx="495.97" cy="582.1" r="2.6" fill="#000"/><circle cx="526.56" cy="581.2" r="2.6" fill="#000"/><circle cx="557.14" cy="581.2" r="2.6" fill="#000"/><circle cx="587.73" cy="578.4" r="2.6" fill="#000"/><circle cx="618.32" cy="575" r="2.6" fill="#000"/><circle cx="648.91" cy="575" r="2.6" fill="#000"/><circle cx="679.5" cy="573.3" r="2.6" fill="#000"/>
<rect x="401.95" y="582.55" width="4.5" height="4.5" fill="#000"/><rect x="432.54" y="581.75" width="4.5" height="4.5" fill="#000"/><rect x="463.13" y="580.95" width="4.5" height="4.5" fill="#000"/><rect x="493.72" y="580.55" width="4.5" height="4.5" fill="#000"/><rect x="524.31" y="579.75" width="4.5" height="4.5" fill="#000"/><rect x="554.89" y="579.55" width="4.5" height="4.5" fill="#000"/><rect x="585.48" y="577.55" width="4.5" height="4.5" fill="#000"/><rect x="616.07" y="573.25" width="4.5" height="4.5" fill="#000"/><rect x="646.66" y="573.25" width="4.5" height="4.5" fill="#000"/><rect x="677.25" y="569.75" width="4.5" height="4.5" fill="#000"/>
<path d="M404.2 591.65L406.55 587.54L401.85 587.54Z" fill="none" stroke="#111" stroke-width="1.35"/><path d="M434.79 591.35L437.14 587.24L432.44 587.24Z" fill="none" stroke="#111" stroke-width="1.35"/><path d="M465.38 591.35L467.73 587.24L463.03 587.24Z" fill="none" stroke="#111" stroke-width="1.35"/><path d="M495.97 590.85L498.32 586.74L493.62 586.74Z" fill="none" stroke="#111" stroke-width="1.35"/><path d="M526.56 590.85L528.91 586.74L524.21 586.74Z" fill="none" stroke="#111" stroke-width="1.35"/><path d="M557.14 590.55L559.49 586.44L554.79 586.44Z" fill="none" stroke="#111" stroke-width="1.35"/><path d="M587.73 587.25L590.08 583.14L585.38 583.14Z" fill="none" stroke="#111" stroke-width="1.35"/><path d="M618.32 587.25L620.67 583.14L615.97 583.14Z" fill="none" stroke="#111" stroke-width="1.35"/><path d="M648.91 587.35L651.26 583.24L646.56 583.24Z" fill="none" stroke="#111" stroke-width="1.35"/><path d="M679.5 585.05L681.85 580.94L677.15 580.94Z" fill="none" stroke="#111" stroke-width="1.35"/>
<path d="M402.1 592.7L406.3 596.9M402.1 596.9L406.3 592.7" stroke="#000" stroke-width="1.2"/><path d="M432.69 592.7L436.89 596.9M432.69 596.9L436.89 592.7" stroke="#000" stroke-width="1.2"/><path d="M463.28 592.4L467.48 596.6M463.28 596.6L467.48 592.4" stroke="#000" stroke-width="1.2"/><path d="M493.87 592.2L498.07 596.4M493.87 596.4L498.07 592.2" stroke="#000" stroke-width="1.2"/><path d="M524.46 591.9L528.66 596.1M524.46 596.1L528.66 591.9" stroke="#000" stroke-width="1.2"/><path d="M555.04 591.6L559.24 595.8M555.04 595.8L559.24 591.6" stroke="#000" stroke-width="1.2"/><path d="M585.63 591.6L589.83 595.8M585.63 595.8L589.83 591.6" stroke="#000" stroke-width="1.2"/><path d="M616.22 582.8L620.42 587M616.22 587L620.42 582.8" stroke="#000" stroke-width="1.2"/><path d="M646.81 582.9L651.01 587.1M646.81 587.1L651.01 582.9" stroke="#000" stroke-width="1.2"/><path d="M677.4 582.9L681.6 587.1M677.4 587.1L681.6 582.9" stroke="#000" stroke-width="1.2"/>
<circle cx="404.3" cy="436.3" r="3.6" fill="#000"/>
<path d="M89.1 796.34L110.77 796.06M119.57 795.97L141.23 795.83M150.03 795.77L171.7 795.63M180.5 795.56L202.17 795.34M210.97 795.3L232.63 795.3M241.43 795.1L263.1 794.1M271.9 793.9L293.57 793.9M302.37 793.87L324.03 793.73M332.83 793.64L354.5 793.36" fill="none" stroke="#5e5e5e" stroke-width="1.5"/>
<rect x="82.45" y="794.15" width="4.5" height="4.5" fill="#000"/><rect x="112.92" y="793.75" width="4.5" height="4.5" fill="#000"/><rect x="143.38" y="793.55" width="4.5" height="4.5" fill="#000"/><rect x="173.85" y="793.35" width="4.5" height="4.5" fill="#000"/><rect x="204.32" y="793.05" width="4.5" height="4.5" fill="#000"/><rect x="234.78" y="793.05" width="4.5" height="4.5" fill="#000"/><rect x="265.25" y="791.65" width="4.5" height="4.5" fill="#000"/><rect x="295.72" y="791.65" width="4.5" height="4.5" fill="#000"/><rect x="326.18" y="791.45" width="4.5" height="4.5" fill="#000"/><rect x="356.65" y="791.05" width="4.5" height="4.5" fill="#000"/>
<path d="M409.47 783.97L431.28 781.33M440.04 780.96L461.79 781.74M470.58 781.67L492.34 780.53M501.13 780.37L522.88 780.73M531.68 780.73L553.42 780.37M562.14 779.44L584.05 775.06M592.77 774.2L614.51 774.2M623.31 774.2L645.06 774.2M653.86 774.2L675.6 774.2" fill="none" stroke="#5e5e5e" stroke-width="1.5"/>
<path d="M409.5 794.1L431.24 794.1M440.04 794.1L461.79 794.1M470.59 794.1L492.33 794.1M501.13 794.1L522.88 794.1M531.68 794.1L553.42 794.1M562.22 794.01L583.97 793.59M592.77 793.47L614.51 793.33M623.31 793.29L645.06 793.21M653.86 793.17L675.6 793.03" fill="none" stroke="#5e5e5e" stroke-width="1.5"/>
<path d="M409.5 801.2L431.24 801.2M440.04 801.2L461.79 801.2M470.59 801.2L492.33 801.2M501.13 801.2L522.88 801.2M531.68 801.17L553.42 801.03M562.22 800.97L583.97 800.83M592.77 800.8L614.51 800.8M623.31 800.77L645.06 800.63M653.85 800.3L675.61 798.8" fill="none" stroke="#222" stroke-width="1.5"/>
<path d="M409.5 801.9L431.24 801.9M440.04 801.9L461.79 801.9M470.59 801.9L492.33 801.9M501.13 801.9L522.88 801.9M531.68 801.87L553.42 801.73M562.22 801.64L583.97 801.36M592.77 801.3L614.51 801.3M623.31 801.29L645.06 801.21M653.85 801.06L675.6 800.34" fill="none" stroke="#222" stroke-width="1.5"/>
<path d="M409.5 802.4L431.24 802.4M440.04 802.4L461.79 802.4M470.59 802.4L492.33 802.4M501.13 802.4L522.88 802.4M531.68 802.37L553.42 802.23M562.22 802.14L583.97 801.86M592.77 801.8L614.51 801.8M623.31 801.83L645.06 801.97M653.85 802.14L675.6 802.86" fill="none" stroke="#222" stroke-width="1.5"/>
<path d="M405.1 782.15L407.45 786.26L402.75 786.26Z" fill="none" stroke="#111" stroke-width="1.35"/><path d="M435.64 778.45L437.99 782.56L433.29 782.56Z" fill="none" stroke="#111" stroke-width="1.35"/><path d="M466.19 779.55L468.54 783.66L463.84 783.66Z" fill="none" stroke="#111" stroke-width="1.35"/><path d="M496.73 777.95L499.08 782.06L494.38 782.06Z" fill="none" stroke="#111" stroke-width="1.35"/><path d="M527.28 778.45L529.63 782.56L524.93 782.56Z" fill="none" stroke="#111" stroke-width="1.35"/><path d="M557.82 777.95L560.17 782.06L555.47 782.06Z" fill="none" stroke="#111" stroke-width="1.35"/><path d="M588.37 771.85L590.72 775.96L586.02 775.96Z" fill="none" stroke="#111" stroke-width="1.35"/><path d="M618.91 771.85L621.26 775.96L616.56 775.96Z" fill="none" stroke="#111" stroke-width="1.35"/><path d="M649.46 771.85L651.81 775.96L647.11 775.96Z" fill="none" stroke="#111" stroke-width="1.35"/><path d="M680 771.85L682.35 775.96L677.65 775.96Z" fill="none" stroke="#111" stroke-width="1.35"/>
<path d="M405.1 791.65L407.55 794.1L405.1 796.55L402.65 794.1Z" fill="none" stroke="#111" stroke-width="1.35"/><path d="M435.64 791.65L438.09 794.1L435.64 796.55L433.19 794.1Z" fill="none" stroke="#111" stroke-width="1.35"/><path d="M466.19 791.65L468.64 794.1L466.19 796.55L463.74 794.1Z" fill="none" stroke="#111" stroke-width="1.35"/><path d="M496.73 791.65L499.18 794.1L496.73 796.55L494.28 794.1Z" fill="none" stroke="#111" stroke-width="1.35"/><path d="M527.28 791.65L529.73 794.1L527.28 796.55L524.83 794.1Z" fill="none" stroke="#111" stroke-width="1.35"/><path d="M557.82 791.65L560.27 794.1L557.82 796.55L555.37 794.1Z" fill="none" stroke="#111" stroke-width="1.35"/><path d="M588.37 791.05L590.82 793.5L588.37 795.95L585.92 793.5Z" fill="none" stroke="#111" stroke-width="1.35"/><path d="M618.91 790.85L621.36 793.3L618.91 795.75L616.46 793.3Z" fill="none" stroke="#111" stroke-width="1.35"/><path d="M649.46 790.75L651.91 793.2L649.46 795.65L647.01 793.2Z" fill="none" stroke="#111" stroke-width="1.35"/><path d="M680 790.55L682.45 793L680 795.45L677.55 793Z" fill="none" stroke="#111" stroke-width="1.35"/>
<ellipse cx="405.1" cy="801.2" rx="2.8" ry="2.6" fill="#000"/><ellipse cx="435.64" cy="801.2" rx="2.8" ry="2.6" fill="#000"/><ellipse cx="466.19" cy="801.2" rx="2.8" ry="2.6" fill="#000"/><ellipse cx="496.73" cy="801.2" rx="2.8" ry="2.6" fill="#000"/><ellipse cx="527.28" cy="801.2" rx="2.8" ry="2.6" fill="#000"/><ellipse cx="557.82" cy="801" rx="2.8" ry="2.6" fill="#000"/><ellipse cx="588.37" cy="800.8" rx="2.8" ry="2.6" fill="#000"/><ellipse cx="618.91" cy="800.8" rx="2.8" ry="2.6" fill="#000"/><ellipse cx="649.46" cy="800.6" rx="2.8" ry="2.6" fill="#000"/><ellipse cx="680" cy="798.5" rx="2.8" ry="2.6" fill="#000"/>
<ellipse cx="405.1" cy="801.9" rx="2.8" ry="2.6" fill="#000"/><ellipse cx="435.64" cy="801.9" rx="2.8" ry="2.6" fill="#000"/><ellipse cx="466.19" cy="801.9" rx="2.8" ry="2.6" fill="#000"/><ellipse cx="496.73" cy="801.9" rx="2.8" ry="2.6" fill="#000"/><ellipse cx="527.28" cy="801.9" rx="2.8" ry="2.6" fill="#000"/><ellipse cx="557.82" cy="801.7" rx="2.8" ry="2.6" fill="#000"/><ellipse cx="588.37" cy="801.3" rx="2.8" ry="2.6" fill="#000"/><ellipse cx="618.91" cy="801.3" rx="2.8" ry="2.6" fill="#000"/><ellipse cx="649.46" cy="801.2" rx="2.8" ry="2.6" fill="#000"/><ellipse cx="680" cy="800.2" rx="2.8" ry="2.6" fill="#000"/>
<ellipse cx="405.1" cy="802.4" rx="2.8" ry="2.6" fill="#000"/><ellipse cx="435.64" cy="802.4" rx="2.8" ry="2.6" fill="#000"/><ellipse cx="466.19" cy="802.4" rx="2.8" ry="2.6" fill="#000"/><ellipse cx="496.73" cy="802.4" rx="2.8" ry="2.6" fill="#000"/><ellipse cx="527.28" cy="802.4" rx="2.8" ry="2.6" fill="#000"/><ellipse cx="557.82" cy="802.2" rx="2.8" ry="2.6" fill="#000"/><ellipse cx="588.37" cy="801.8" rx="2.8" ry="2.6" fill="#000"/><ellipse cx="618.91" cy="801.8" rx="2.8" ry="2.6" fill="#000"/><ellipse cx="649.46" cy="802" rx="2.8" ry="2.6" fill="#000"/><ellipse cx="680" cy="803" rx="2.8" ry="2.6" fill="#000"/>
<circle cx="404.5" cy="655.6" r="3.6" fill="#000"/>
<text x="84.7" y="826.2" text-anchor="middle" class="tk">2012</text>
<text x="145.63" y="826.2" text-anchor="middle" class="tk">2014</text>
<text x="206.57" y="826.2" text-anchor="middle" class="tk">2016</text>
<text x="267.5" y="826.2" text-anchor="middle" class="tk">2018</text>
<text x="328.43" y="826.2" text-anchor="middle" class="tk">2020</text>
<text x="405.1" y="826.2" text-anchor="middle" class="tk">2012</text>
<text x="466.19" y="826.2" text-anchor="middle" class="tk">2014</text>
<text x="527.28" y="826.2" text-anchor="middle" class="tk">2016</text>
<text x="588.37" y="826.2" text-anchor="middle" class="tk">2018</text>
<text x="649.46" y="826.2" text-anchor="middle" class="tk">2020</text>
<text x="80.54" y="31.5" font-size="27.3">Study-site scale</text>
<text x="403.34" y="29.8" font-size="27">FMU scale</text>
<text x="333.06" y="31.5" font-size="31">a</text>
<text x="657.94" y="30.4" font-size="31">b</text>
<text x="326.16" y="234.4" font-size="31">c</text>
<text x="656.46" y="236.4" font-size="31">d</text>
<text x="328.36" y="437.2" font-size="31">e</text>
<text x="652.99" y="447.6" font-size="31">f</text>
<text x="327.36" y="650.2" font-size="31">g</text>
<text x="651.73" y="654" font-size="31">h</text>
<text x="214.46" y="184.8" font-size="23.6">500 ha, ≥30%</text>
<text x="210.26" y="359.3" font-size="23.6">500 ha, ≥ 59%</text>
<text x="186.11" y="589.4" font-size="23.8">20000 ha, ≥30%</text>
<text x="189.31" y="779.7" font-size="23.85">20000 ha, ≥59%</text>
<text x="338.67" y="867.4" font-size="34.3">Year</text>
<text transform="translate(26.7 422) rotate(-90)" text-anchor="middle" font-size="34">Percent forest &gt;100 years old in moving windows</text>
</svg>
</body></html>
